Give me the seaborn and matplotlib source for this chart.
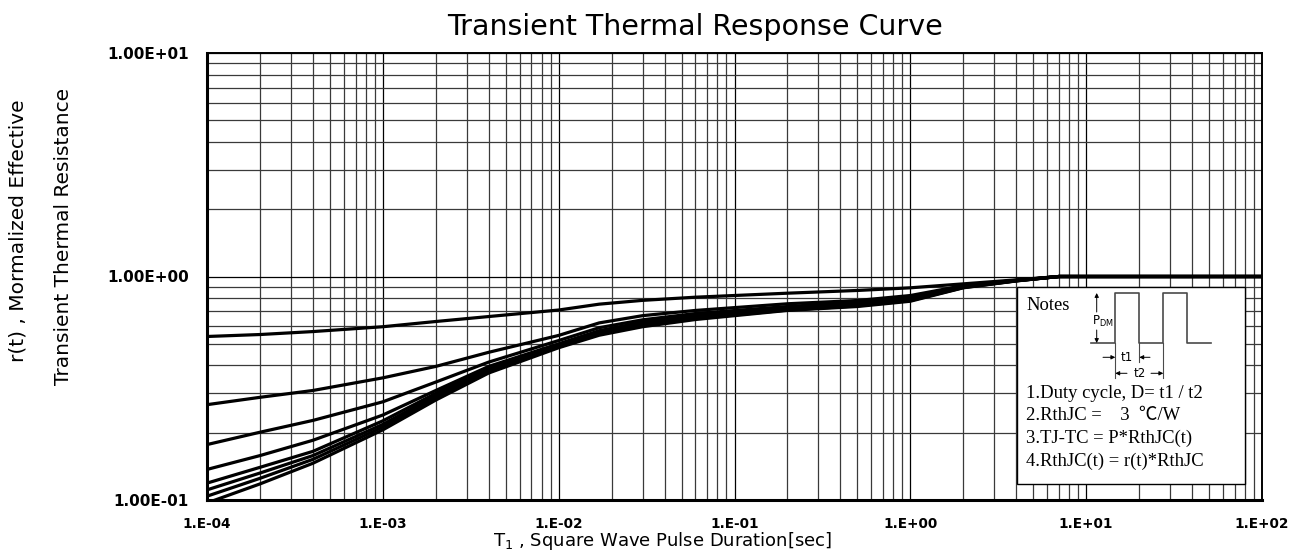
import matplotlib
matplotlib.use("Agg")
import matplotlib.pyplot as plt
import numpy as np
import pandas as pd
import seaborn as sns
from matplotlib.patches import Rectangle
from matplotlib.ticker import LogLocator, NullFormatter, FixedLocator, FixedFormatter

# pulse duration (sec) and r(t), one list per curve
pulse_time = [1e-4, 2e-4, 4e-4, 1e-3, 2e-3, 4e-3, 1e-2, 1.7e-2, 3e-2, 6e-2, 2e-1, 5e-1, 1, 2, 4, 7, 100]
curve_a = [0.539, 0.550, 0.567, 0.596, 0.629, 0.662, 0.708, 0.752, 0.782, 0.808, 0.842, 0.866, 0.890, 0.927, 0.966, 1.0, 1.0]
curve_b = [0.267, 0.288, 0.309, 0.352, 0.396, 0.458, 0.545, 0.620, 0.668, 0.705, 0.755, 0.781, 0.822, 0.910, 0.960, 1.0, 1.0]
curve_c = [0.177, 0.201, 0.227, 0.275, 0.337, 0.414, 0.517, 0.590, 0.640, 0.683, 0.734, 0.767, 0.808, 0.910, 0.962, 1.0, 1.0]
curve_d = [0.137, 0.158, 0.185, 0.240, 0.309, 0.396, 0.500, 0.572, 0.625, 0.672, 0.726, 0.758, 0.800, 0.905, 0.960, 1.0, 1.0]
curve_e = [0.119, 0.140, 0.165, 0.226, 0.300, 0.390, 0.492, 0.563, 0.615, 0.662, 0.718, 0.750, 0.792, 0.900, 0.958, 1.0, 1.0]
curve_f = [0.111, 0.132, 0.158, 0.218, 0.293, 0.383, 0.488, 0.557, 0.608, 0.655, 0.712, 0.744, 0.785, 0.895, 0.957, 1.0, 1.0]
curve_g = [0.104, 0.125, 0.152, 0.212, 0.287, 0.377, 0.484, 0.552, 0.602, 0.648, 0.708, 0.739, 0.780, 0.892, 0.956, 1.0, 1.0]
curve_h = [0.097, 0.118, 0.146, 0.206, 0.280, 0.370, 0.480, 0.546, 0.596, 0.642, 0.705, 0.734, 0.775, 0.890, 0.955, 1.0, 1.0]
curve_names = ["a", "b", "c", "d", "e", "f", "g", "h"]
curves = [curve_a, curve_b, curve_c, curve_d, curve_e, curve_f, curve_g, curve_h]

x_ticks = [1e-4, 1e-3, 1e-2, 1e-1, 1e0, 1e1, 1e2]
y_ticks = [1e-1, 1e0, 1e1]
x_labels = ["1.E%+03d" % int(round(np.log10(v))) for v in x_ticks]
y_labels = ["1.00E%+03d" % int(round(np.log10(v))) for v in y_ticks]

notes = ["1.Duty cycle, D= t1 / t2",
         "2.RthJC =    3  \u2103/W",
         "3.TJ-TC = P*RthJC(t)",
         "4.RthJC(t) = r(t)*RthJC"]

df = pd.concat([pd.DataFrame({"t": pulse_time, "r": vals, "curve": name})
                for name, vals in zip(curve_names, curves)], ignore_index=True)

fig = plt.figure(figsize=(13.07, 5.54), dpi=100)
W, H = 1307, 554
L, R, T, B = 207, 1262, 53, 500
ax = fig.add_axes([L / W, 1 - B / H, (R - L) / W, (B - T) / H])
ax.set_xscale("log")
ax.set_yscale("log")

sns.lineplot(data=df, x="t", y="r", hue="curve", palette=["black"] * len(curves),
             estimator=None, sort=False, legend=False, lw=2.3, ax=ax, zorder=3)

ax.set_xlim(1e-4, 1e2)
ax.set_ylim(1e-1, 1e1)
ax.xaxis.set_major_locator(FixedLocator(x_ticks))
ax.xaxis.set_major_formatter(FixedFormatter(x_labels))
ax.yaxis.set_major_locator(FixedLocator(y_ticks))
ax.yaxis.set_major_formatter(FixedFormatter(y_labels))
for axis in (ax.xaxis, ax.yaxis):
    axis.set_minor_locator(LogLocator(base=10, subs=np.arange(2, 10), numticks=20))
    axis.set_minor_formatter(NullFormatter())
ax.grid(True, which="major", color="black", lw=0.9)
ax.grid(True, which="minor", color="#3a3a3a", lw=0.9)
ax.tick_params(which="both", length=0)
ax.tick_params(axis="x", pad=12, labelsize=9.8)
ax.tick_params(axis="y", pad=13, labelsize=11)
for lab in ax.get_xticklabels() + ax.get_yticklabels():
    lab.set_fontweight("bold")
for side, sp in ax.spines.items():
    sp.set_color("black")
    sp.set_linewidth(2.2 if side in ("left", "bottom") else 1.4)
ax.set_xlabel("")
ax.set_ylabel("")

fig.text(447 / W, 1 - 35 / H, "Transient Thermal Response Curve", fontsize=20.5,
         ha="left", va="baseline")
fig.text(493 / W, 1 - 546.5 / H, r"T$_\mathregular{1}$ , Square Wave Pulse Duration[sec]",
         fontsize=13, ha="left", va="baseline")
fig.text(18.5 / W, 1 - 230.5 / H, "r(t) , Mormalized Effective", rotation=90,
         fontsize=14.5, ha="center", va="center")
fig.text(63.5 / W, 1 - 236 / H, "Transient Thermal Resistance", rotation=90,
         fontsize=14.5, ha="center", va="center")


def ap(x, y):
    # pixel position in the picture -> axes fraction
    return ((x - L) / (R - L), (B - y) / (B - T))


# notes box
x0, y0 = ap(1017, 484)
x1, y1 = ap(1245, 287)
ax.add_patch(Rectangle((x0, y0), x1 - x0, y1 - y0, transform=ax.transAxes,
                       facecolor="white", edgecolor="black", lw=1.0, zorder=4))

serif = ["Liberation Serif", "Noto Sans CJK SC"]
ax.text(*ap(1026, 305), "Notes", family=serif, fontsize=13.4, ha="left", va="center",
        transform=ax.transAxes, zorder=5)
for i, line in enumerate(notes):
    ax.text(*ap(1026, 393 + 22.8 * i), line, family=serif, fontsize=13.4,
            ha="left", va="center", transform=ax.transAxes, zorder=5)

# pulse train sketch
wx = [1091, 1115.3, 1115.3, 1139.3, 1139.3, 1163.3, 1163.3, 1186.7, 1186.7, 1211]
wy = [343.3, 343.3, 292.7, 292.7, 343.3, 343.3, 292.7, 292.7, 343.3, 343.3]
pts = [ap(a, b) for a, b in zip(wx, wy)]
ax.plot([p[0] for p in pts], [p[1] for p in pts], color="#4a4a4a", lw=1.2,
        transform=ax.transAxes, zorder=5)
# extension lines
for ex, ey in [(1115.3, 378), (1139.3, 362), (1163.3, 378)]:
    a, b = ap(ex, 343.3), ap(ex, ey)
    ax.plot([a[0], b[0]], [a[1], b[1]], color="#4a4a4a", lw=0.8,
            transform=ax.transAxes, zorder=5)


def arrow(xa, ya, xb, yb):
    ax.annotate("", xy=ap(xb, yb), xytext=ap(xa, ya), xycoords="axes fraction",
                textcoords="axes fraction", zorder=6,
                arrowprops=dict(arrowstyle="-|>", color="black", lw=0.7,
                                mutation_scale=6, shrinkA=0, shrinkB=0))


arrow(1096.7, 312, 1096.7, 293)
arrow(1096.7, 330, 1096.7, 343)
arrow(1103, 357.3, 1115.3, 357.3)
arrow(1150, 357.3, 1139.3, 357.3)
arrow(1127, 373.3, 1115.3, 373.3)
arrow(1151, 373.3, 1163.3, 373.3)
ax.text(*ap(1092, 321), r"P$_\mathregular{DM}$", fontsize=8.5, ha="left", va="center",
        transform=ax.transAxes, zorder=6)
ax.text(*ap(1127, 357.3), "t1", fontsize=8.5, ha="center", va="center",
        transform=ax.transAxes, zorder=6)
ax.text(*ap(1139.3, 373.3), "t2", fontsize=8.5, ha="center", va="center",
        transform=ax.transAxes, zorder=6)

fig.savefig("out.png", dpi=100)
